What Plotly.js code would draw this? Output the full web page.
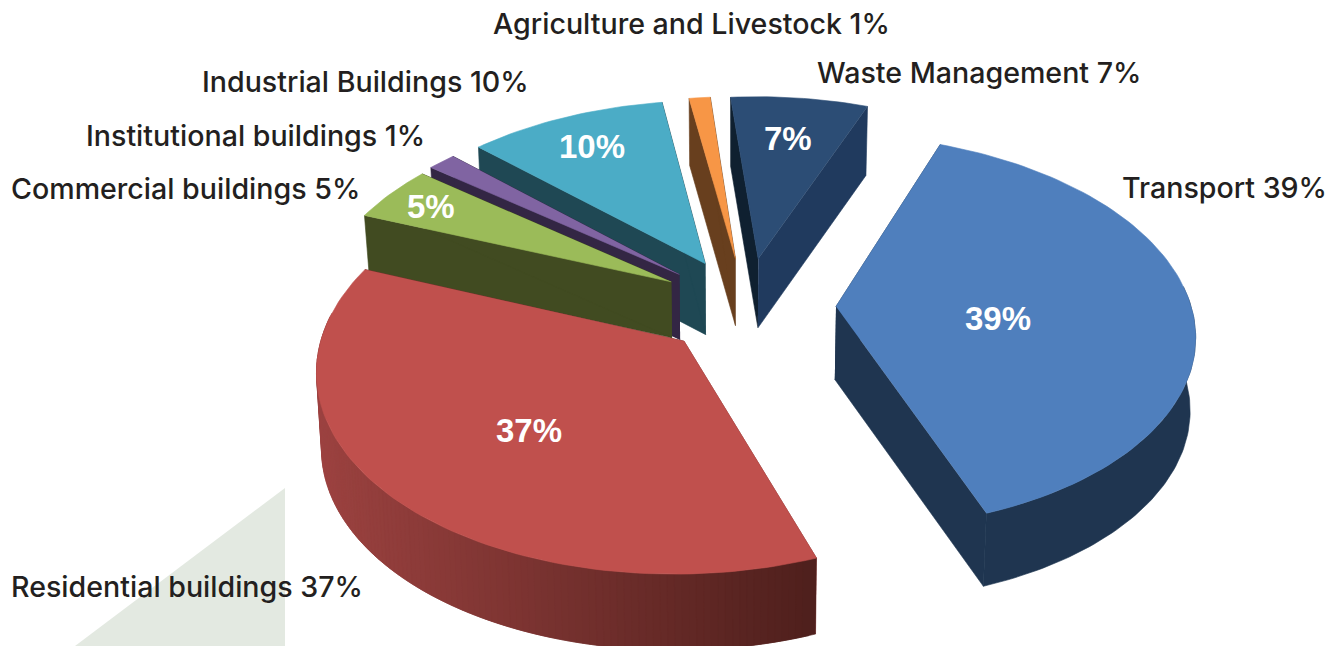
<!DOCTYPE html>
<html>
<head>
<meta charset="utf-8">
<script src="https://cdn.plot.ly/plotly-3.0.1.min.js"></script>
<style>html,body{margin:0;padding:0;background:#fff;overflow:hidden}#chart{width:1326px;height:646px}</style>
</head>
<body>
<div id="chart"></div>
<script>
// ---- data ----
const categories = ['Transport','Residential buildings','Commercial buildings','Institutional buildings','Industrial Buildings','Agriculture and Livestock','Waste Management'];
const values = [38.6, 36.6, 4.6, 1.49, 10.4, 1.11, 7.2];
const displayed = [39, 37, 5, 1, 10, 1, 7];

// ---- styles ----
const topColors  = ['#4f7fbd','#c0504d','#9bbb59','#8064a2','#4bacc6','#f79646','#2c4d75'];
const wallA      = ['#1f3550','#7a3230','#414b21','#332644','#1f4854','#683f1e','#0f2030'];
const wallB      = ['#1f3550','#7a3230','#414b21','#332644','#1f4854','#683f1e','#203a5e'];
const depths     = [73, 76, 56, 65, 71, 67, 69];
const nudgeX     = [0, 4, 2, 0, 0, 0, 0];
const paintOrder = [6, 5, 4, 3, 2, 1, 0];
const labelPos   = [[1224,187],[187,586],[185,188],[255,135],[365,81],[691,23],[979,72]];
const valuePos   = [[998,318],[529,430],[431,206],[0,0],[592,146],[0,0],[788,138]];
const ink = '#231f20';

// ---- projection of the tilted, exploded pie ----
const cx = 746, cy = 306, R = 355, pull = 90, persp = 0.127, squash = 0.546;
const vx = 735, shrink = 0.988, startAngle = 69;
const rad = d => d * Math.PI / 180;
function project(X, Y) {
  const f = 1 / (1 + persp * Y / R);
  return [cx + X * f, cy - squash * Y * f];
}
const lower = (p, d) => [vx + (p[0] - vx) * shrink, p[1] + d];

const total = values.reduce((a, b) => a + b, 0);
let cursor = startAngle;
const slices = values.map((v, i) => {
  const sweep = v / total * 360;
  const s = { i, from: cursor, to: cursor - sweep, mid: cursor - sweep / 2 };
  cursor -= sweep;
  return s;
});
function rim(s, deg) {
  const p = project(pull * Math.cos(rad(s.mid)) + R * Math.cos(rad(deg)),
                    pull * Math.sin(rad(s.mid)) + R * Math.sin(rad(deg)));
  return [p[0] + nudgeX[s.i], p[1]];
}
function apex(s) {
  const p = project(pull * Math.cos(rad(s.mid)), pull * Math.sin(rad(s.mid)));
  return [p[0] + nudgeX[s.i], p[1]];
}

function poly(pts, color, name) {
  return { type: 'scatter', mode: 'lines', x: pts.map(p => p[0]), y: pts.map(p => p[1]),
    fill: 'toself', fillcolor: color, line: { color: color, width: 0.6 },
    hoverinfo: name ? 'text' : 'skip', text: name || '', showlegend: false };
}
const mix = (a, b, t) => {
  const h = c => [1, 3, 5].map(k => parseInt(c.substr(k, 2), 16));
  const A = h(a), B = h(b);
  return 'rgb(' + A.map((x, k) => Math.round(x + (B[k] - x) * t)).join(',') + ')';
};

const traces = [];
paintOrder.forEach(idx => {
  const s = slices[idx], d = depths[idx];
  const a = apex(s), p0 = rim(s, s.from), p1 = rim(s, s.to);
  // radial walls
  traces.push(poly([a, p0, lower(p0, d), lower(a, d)], wallA[idx]));
  traces.push(poly([a, p1, lower(p1, d), lower(a, d)], wallB[idx]));
  // outer wall, only where it faces the viewer
  const facing = [];
  const stepDeg = 1;
  for (let t = s.from; t > s.to; t -= stepDeg) {
    if (Math.sin(rad(t)) <= 0.12) facing.push(t);
  }
  if (facing.length) {
    if (idx === 1) {
      // shaded front wall: overlapping strips, left to right, so no seams show
      for (let k = facing.length - 1; k >= 0; k -= 1) {
        const t0 = facing[k], t1 = Math.max(s.to, t0 - 2 * stepDeg);
        const q0 = rim(s, t0), q1 = rim(s, t1);
        const col = mix('#4e1f1c', '#9c4240', (819 - (q0[0] + q1[0]) / 2) / 500);
        traces.push(poly([q0, q1, lower(q1, d), lower(q0, d)], col));
      }
    } else {
      const top = facing.map(t => rim(s, t)).concat([rim(s, s.to)]);
      const pts = top.concat(top.slice().reverse().map(p => lower(p, d)));
      traces.push(poly(pts, wallA[idx]));
    }
  }
  // top face
  const face = [a];
  const n = Math.ceil((s.from - s.to) / 1.5) + 1;
  for (let k = 0; k <= n; k++) face.push(rim(s, s.from + (s.to - s.from) * k / n));
  traces.push(poly(face, topColors[idx], categories[idx] + ' ' + displayed[idx] + '%'));
});

const labelFont = { family: 'Inter, Liberation Sans, Arial, sans-serif', size: 28.6, color: ink, weight: 500 };
const annotations = [];
categories.forEach((c, i) => {
  annotations.push({ x: labelPos[i][0], y: labelPos[i][1], xref: 'x', yref: 'y', showarrow: false,
    text: c + ' ' + displayed[i] + '%', font: labelFont, xanchor: 'center', yanchor: 'middle' });
  if (valuePos[i][0]) annotations.push({ x: valuePos[i][0], y: valuePos[i][1], xref: 'x', yref: 'y', showarrow: false,
    text: displayed[i] + '%', font: { family: 'Liberation Sans, Arial, sans-serif', size: 33, color: '#ffffff', weight: 700 },
    xanchor: 'center', yanchor: 'middle' });
});

const layout = {
  width: 1326, height: 646, margin: { l: 0, r: 0, t: 0, b: 0 },
  paper_bgcolor: '#ffffff', plot_bgcolor: '#ffffff', showlegend: false, hovermode: 'closest',
  xaxis: { range: [0, 1326], visible: false, fixedrange: true },
  yaxis: { range: [646, 0], visible: false, fixedrange: true },
  shapes: [{ type: 'path', path: 'M 285 488 L 285 646 L 75 646 Z', fillcolor: '#e3e9e1', line: { width: 0 }, layer: 'below' }],
  annotations
};
Plotly.newPlot('chart', traces, layout, { displayModeBar: false, responsive: false });
</script>
</body>
</html>
